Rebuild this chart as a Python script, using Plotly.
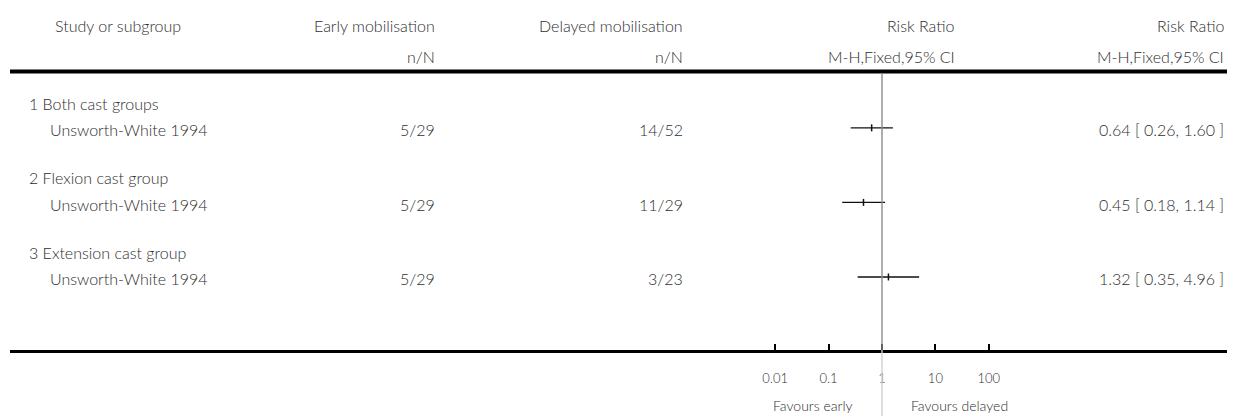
import math
import plotly.graph_objects as go

# ---------------- data ----------------
subgroups = ["1 Both cast groups", "2 Flexion cast group", "3 Extension cast group"]
studies = ["Unsworth-White 1994", "Unsworth-White 1994", "Unsworth-White 1994"]
early_nN = ["5/29", "5/29", "5/29"]
delayed_nN = ["14/52", "11/29", "3/23"]
rr = [0.64, 0.45, 1.32]
rr_lo = [0.26, 0.18, 0.35]
rr_hi = [1.60, 1.14, 4.96]
tick_vals = [0.01, 0.1, 1, 10, 100]
tick_text = ["0.01", "0.1", "1", "10", "100"]
headers_top = ["Study or subgroup", "Early mobilisation", "Delayed mobilisation", "Risk Ratio", "Risk Ratio"]
headers_sub = ["", "n/N", "n/N", "M-H,Fixed,95% CI", "M-H,Fixed,95% CI"]
fav_left = "Favours early"
fav_right = "Favours delayed"
null_value = 1

# ---------------- layout constants (pixels, in window coordinates) ----------------
WIN_W, WIN_H = 1235, 416
OFF = 8                      # default body margin of the html page
W, H = WIN_W - OFF, WIN_H - OFF
ML = 10 - OFF                # left edge of rules (window px 10)
PLOT_W = W - ML
AXIS_Y = 350                 # window px row of bottom axis line
NULL_PX = 882                # window px of RR = 1
DEC_PX = 53.4                # pixels per decade
ROW0 = 103                   # window px of first row
ROW_H = 24.85

FONT = "Lato"
FS = 16
TXT = "#2e2e2e"
WEIGHT = 300


def px2paper_x(px):
    return (px - OFF - ML) / PLOT_W


def px2paper_y(py):
    return (H - (py - OFF)) / H


def px2row(py):
    return (py - ROW0) / ROW_H


# axis range in log10 units: plot spans window px (OFF+ML) .. WIN_W
x_range = [(OFF + ML - NULL_PX) / DEC_PX, (WIN_W - NULL_PX) / DEC_PX]
y_range = [px2row(AXIS_Y), px2row(OFF)]

fig = go.Figure()

study_rows = [1 + 3 * i for i in range(len(studies))]
sub_rows = [3 * i for i in range(len(subgroups))]

# CI lines
for i in range(len(rr)):
    fig.add_trace(go.Scatter(
        x=[rr_lo[i], rr_hi[i]], y=[study_rows[i], study_rows[i]],
        mode="lines", line=dict(color="#111", width=1.4),
        hoverinfo="skip", showlegend=False))

# point estimates
fig.add_trace(go.Scatter(
    x=rr, y=study_rows, mode="markers",
    marker=dict(symbol="line-ns", size=5, line=dict(color="#111", width=1.5)),
    showlegend=False, hoverinfo="skip"))

annotations = []


def ann(text, xp, yv, anchor, yref="y", xref="paper", xshift=0, size=FS):
    annotations.append(dict(
        text=text, x=xp, y=yv, xref=xref, yref=yref,
        xanchor=anchor, yanchor="middle", showarrow=False, xshift=xshift,
        font=dict(family=FONT, size=size, color=TXT, weight=WEIGHT)))


# headers
h1 = px2row(25)
h2 = px2row(56)
ann(headers_top[0], px2paper_x(53), h1, "left")
ann(headers_top[1], px2paper_x(437), h1, "right")
ann(headers_sub[1], px2paper_x(437), h2, "right")
ann(headers_top[2], px2paper_x(685), h1, "right")
ann(headers_sub[2], px2paper_x(685), h2, "right")
ann(headers_top[3], px2paper_x(956), h1, "right")
ann(headers_sub[3], px2paper_x(957), h2, "right")
ann(headers_top[4], px2paper_x(1226), h1, "right")
ann(headers_sub[4], px2paper_x(1226), h2, "right")

# rows
for i in range(len(subgroups)):
    ann(subgroups[i], px2paper_x(27), sub_rows[i], "left")
    ann(studies[i], px2paper_x(48), study_rows[i] + 0.08, "left")
    ann(early_nN[i], px2paper_x(437), study_rows[i] + 0.08, "right")
    ann(delayed_nN[i], px2paper_x(685), study_rows[i] + 0.08, "right")
    ann(f"{rr[i]:.2f} [ {rr_lo[i]:.2f}, {rr_hi[i]:.2f} ]", px2paper_x(1226),
        study_rows[i] + 0.08, "right")

# favours labels (annotation x on a log axis is given in log10 units)
fy = px2paper_y(405)
ann(fav_left, math.log10(null_value), fy, "right", yref="paper", xref="x", xshift=-27, size=14)
ann(fav_right, math.log10(null_value), fy, "left", yref="paper", xref="x", xshift=27, size=14)

shapes = [
    # top rule
    dict(type="line", xref="paper", yref="paper", x0=0, x1=1,
         y0=px2paper_y(71.5), y1=px2paper_y(71.5), line=dict(color="black", width=4)),
    # null line above axis
    dict(type="line", xref="x", yref="paper", x0=null_value, x1=null_value,
         y0=px2paper_y(73), y1=px2paper_y(AXIS_Y), line=dict(color="#8c8c8c", width=1.4)),
    # null line below axis
    dict(type="line", xref="x", yref="paper", x0=null_value, x1=null_value,
         y0=px2paper_y(AXIS_Y), y1=0, line=dict(color="#d0d0d0", width=1.4)),
]

fig.update_layout(
    width=W, height=H,
    margin=dict(l=ML, r=0, t=0, b=0, pad=0),
    paper_bgcolor="white", plot_bgcolor="white",
    showlegend=False,
    annotations=annotations, shapes=shapes,
    xaxis=dict(type="log", range=x_range, showgrid=False, zeroline=False,
               showline=True, linecolor="black", linewidth=3,
               tickmode="array", tickvals=tick_vals, ticktext=tick_text,
               ticks="inside", ticklen=6, tickwidth=2, tickcolor="black",
               ticklabelstandoff=14,
               tickfont=dict(family=FONT, size=13, color=TXT, weight=WEIGHT),
               fixedrange=True),
    yaxis=dict(range=y_range, domain=[px2paper_y(AXIS_Y), 1], visible=False,
               fixedrange=True),
)

fig.write_html("out.html", config={"displayModeBar": False})
